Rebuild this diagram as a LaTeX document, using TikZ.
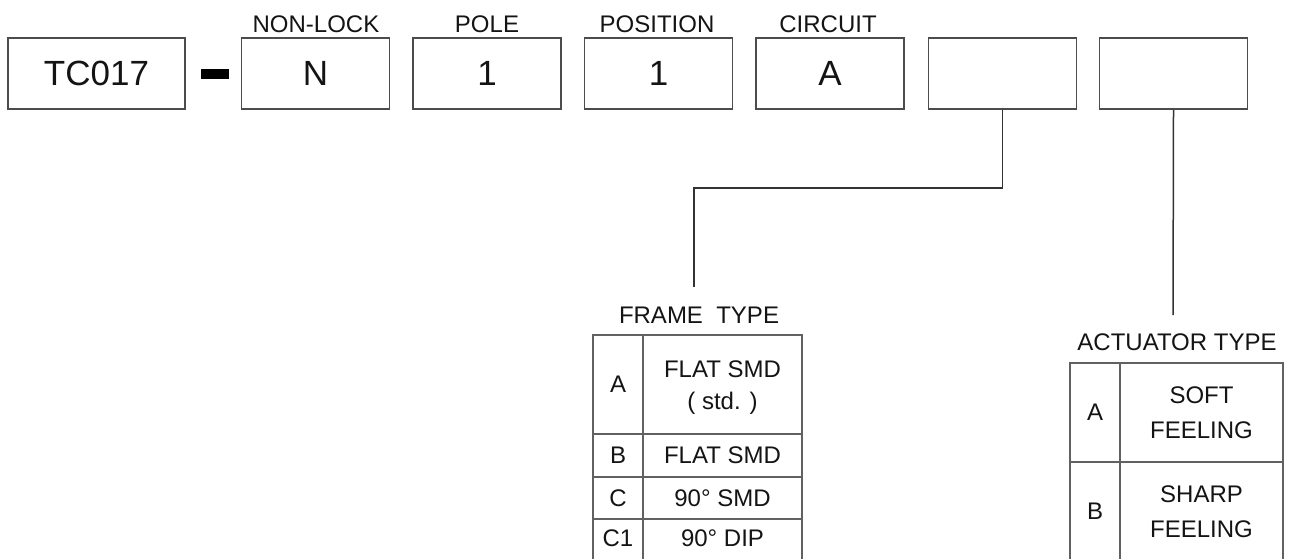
\documentclass[tikz,border=0pt]{standalone}
\usepackage{fontspec}
\setmainfont{Liberation Sans}
\begin{document}
\begin{tikzpicture}[x=1pt,y=-1pt,
  conn/.style={draw=black!80, line width=1.5pt},
  box/.style={draw=black!70, line width=1.6pt, minimum height=71pt, minimum width=148pt, inner sep=0pt, font=\fontsize{35}{42}\selectfont, text=black!92},
  lbl/.style={font=\fontsize{24}{28}\selectfont, text=black!92, inner sep=0pt, anchor=base},
  cell/.style={font=\fontsize{24}{35}\selectfont, text=black!92, inner sep=0pt, align=center},
  cellb/.style={cell, font=\fontsize{24}{32}\selectfont},
  gridline/.style={draw=black!62, line width=1.4pt}]
\clip (0,0) rectangle (1292,558);
\fill[white] (0,0) rectangle (1292,558);
% top row of code boxes
\node[box, minimum width=177pt] (b1) at (96.5,73.5) {TC017};
\node[fill=black, inner sep=0pt, minimum width=28pt, minimum height=10pt] (hyph) at (215,74) {};
\node[box] (b2) at (315.5,73.5) {N};
\node[box] (b3) at (487,73.5) {1};
\node[box] (b4) at (658.5,73.5) {1};
\node[box] (b5) at (830,73.5) {A};
\node[box] (b6) at (1002.5,73.5) {};
\node[box] (b7) at (1173.5,73.5) {};
% labels above
\node[lbl] (l2) at (316,32) {NON-LOCK};
\node[lbl] (l3) at (487,32) {POLE};
\node[lbl] (l4) at (657,32) {POSITION};
\node[lbl] (l5) at (828,32) {CIRCUIT};
% connectors
\coordinate (fend) at (694,287);
\coordinate (aend) at (1173,315);
\draw[conn] (b6.south) -- ++(0,78) -| (fend);
\draw[conn] (b7.south) -- (aend);
% FRAME TYPE table
\node[lbl] (ft) at (699,323) {FRAME\ \ TYPE};
\draw[gridline] (593,335) rectangle (802,570);
\draw[gridline] (643,335) -- (643,570);
\draw[gridline] (593,434) -- (802,434);
\draw[gridline] (593,477) -- (802,477);
\draw[gridline] (593,519) -- (802,519);
\node[cell] (fa) at (618,384.5) {A};
\node[cellb] (fat) at (722.5,388) {FLAT SMD\\( std. )};
\node[cell] (fb) at (618,455.5) {B};
\node[cell] (fbt) at (722.5,455.5) {FLAT SMD};
\node[cell] (fc) at (618,498) {C};
\node[cell] (fct) at (722.5,498) {90° SMD};
\node[cell] (fc1) at (618,538.5) {C1};
\node[cell] (fc1t) at (722.5,538.5) {90° DIP};
% ACTUATOR TYPE table
\node[lbl] (at) at (1177,350) {ACTUATOR TYPE};
\draw[gridline] (1070,363) rectangle (1283,570);
\draw[gridline] (1120,363) -- (1120,570);
\draw[gridline] (1070,462) -- (1283,462);
\node[cell] (aa) at (1095,412.5) {A};
\node[cell] (aat) at (1201.5,412.5) {SOFT\\FEELING};
\node[cell] (ab) at (1095,511.5) {B};
\node[cell] (abt) at (1201.5,511.5) {SHARP\\FEELING};
\end{tikzpicture}
\end{document}
